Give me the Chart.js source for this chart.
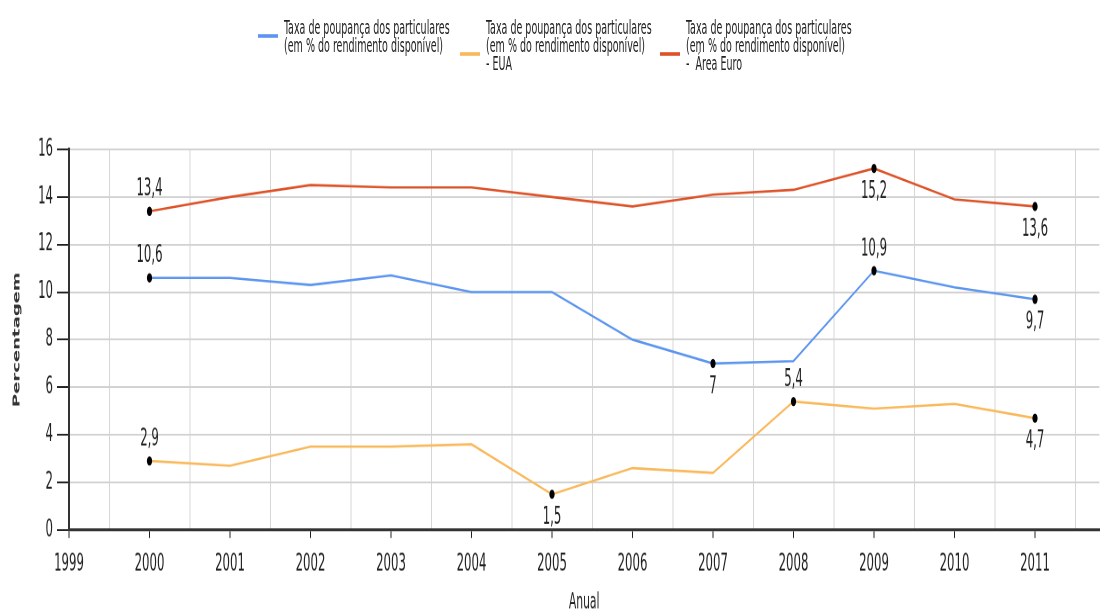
<!DOCTYPE html>
<html>
<head>
<meta charset="utf-8">
<script src="https://cdn.jsdelivr.net/npm/chart.js@4/dist/chart.umd.min.js"></script>
<style>
  html { overflow: hidden; }
  html, body { margin: 0; padding: 0; background: #fff; width: 1102px; height: 615px; }
  #wrap { position: relative; width: 1102px; height: 342px; transform: scaleY(1.8); transform-origin: 0 0; }
  #legend { position: absolute; left: 0; top: 0; width: 1102px; height: 60px; }
  .item { position: absolute; top: 10px; }
  .swatch { position: absolute; width: 20px; height: 2.2px; }
  .text { position: absolute; white-space: pre; font: 10.6px "Liberation Sans Narrow", "Arial Narrow", "DejaVu Sans Condensed", "Liberation Sans", sans-serif; line-height: 10px; color: #222; }
</style>
</head>
<body>
<div id="wrap">
  <canvas id="chart" width="1102" height="342"></canvas>
  <div id="legend"></div>
</div>
<script>
const years = [2000, 2001, 2002, 2003, 2004, 2005, 2006, 2007, 2008, 2009, 2010, 2011];
const particulares = [10.6, 10.6, 10.3, 10.7, 10.0, 10.0, 8.0, 7.0, 7.1, 10.9, 10.2, 9.7];
const eua = [2.9, 2.7, 3.5, 3.5, 3.6, 1.5, 2.6, 2.4, 5.4, 5.1, 5.3, 4.7];
const areaEuro = [13.4, 14.0, 14.5, 14.4, 14.4, 14.0, 13.6, 14.1, 14.3, 15.2, 13.9, 13.6];
const yTicks = [0, 2, 4, 6, 8, 10, 12, 14, 16];

const seriesNames = [
  ["Taxa de poupança dos particulares", "(em % do rendimento disponível)"],
  ["Taxa de poupança dos particulares", "(em % do rendimento disponível)", "- EUA"],
  ["Taxa de poupança dos particulares", "(em % do rendimento disponível)", "-  Área Euro"]
];
const seriesColors = ["#5b95ef", "#f9b85a", "#de5228"];

// which points carry a value label, and where
const particularesLabels = ["top", "", "", "", "", "", "", "bottom", "", "top", "", "bottom"];
const euaLabels = ["top", "", "", "", "", "bottom", "", "", "top", "", "", "bottom"];
const areaEuroLabels = ["top", "", "", "", "", "", "", "", "", "bottom", "", "bottom"];

const narrow = "'Liberation Sans Narrow', 'Arial Narrow', 'DejaVu Sans Condensed', 'Liberation Sans', sans-serif";

// html legend (multi line labels)
const legendPos = [[258, 10], [460, 20], [660, 20]];
const legend = document.getElementById("legend");
seriesNames.forEach(function (lines, i) {
  var item = document.createElement("div");
  item.className = "item";
  item.style.left = legendPos[i][0] + "px";
  var sw = document.createElement("div");
  sw.className = "swatch";
  sw.style.background = seriesColors[i];
  sw.style.top = legendPos[i][1] - 1 + "px";
  var tx = document.createElement("div");
  tx.className = "text";
  tx.style.left = "26px";
  tx.style.top = "0px";
  tx.textContent = lines.join("\n");
  item.appendChild(sw);
  item.appendChild(tx);
  legend.appendChild(item);
});

function makeSet(i, values, labels) {
  return {
    label: seriesNames[i].join(" "),
    data: years.map(function (y, k) { return { x: y, y: values[k] }; }),
    borderColor: seriesColors[i],
    backgroundColor: seriesColors[i],
    borderWidth: 1.3,
    tension: 0,
    pointRadius: function (c) { return labels[c.dataIndex] ? 2.6 : 0; },
    pointHoverRadius: function (c) { return labels[c.dataIndex] ? 2.6 : 0; },
    pointBackgroundColor: "#000",
    pointBorderColor: "#000",
    pointBorderWidth: 0,
    valueLabels: labels
  };
}

const valueLabelPlugin = {
  id: "valueLabels",
  afterDatasetsDraw: function (chart) {
    var ctx = chart.ctx;
    ctx.save();
    ctx.font = "13px " + narrow;
    ctx.fillStyle = "#222";
    ctx.textAlign = "center";
    ctx.textBaseline = "middle";
    chart.data.datasets.forEach(function (ds, i) {
      var meta = chart.getDatasetMeta(i);
      meta.data.forEach(function (el, k) {
        var pos = ds.valueLabels[k];
        if (!pos) return;
        var txt = String(ds.data[k].y).replace(".", ",");
        ctx.fillText(txt, el.x, pos === "top" ? el.y - 12 : el.y + 13);
      });
    });
    ctx.restore();
  }
};

const ctx = document.getElementById("chart").getContext("2d");
const myChart = new Chart(ctx, {
  type: "line",
  data: {
    datasets: [
      makeSet(0, particulares, particularesLabels),
      makeSet(1, eua, euaLabels),
      makeSet(2, areaEuro, areaEuroLabels)
    ]
  },
  plugins: [valueLabelPlugin],
  options: {
    responsive: false,
    devicePixelRatio: 2,
    animation: false,
    layout: { padding: { top: 83, right: 2, left: 0, bottom: 0 } },
    plugins: {
      legend: { display: false },
      tooltip: { enabled: false }
    },
    scales: {
      x: {
        type: "linear",
        min: 1999,
        max: 2011.8,
        afterFit: function (scale) { scale.height = 47.6; },
        ticks: {
          stepSize: 0.5,
          autoSkip: false,
          includeBounds: false,
          maxRotation: 0,
          padding: 7,
          color: "#222",
          font: { family: narrow, size: 13 },
          callback: function (v) { return v % 1 === 0 ? String(v) : ""; }
        },
        grid: {
          color: function (c) { return c.tick && c.tick.value % 1 !== 0 ? "#d6d6d6" : "rgba(0,0,0,0)"; },
          tickColor: function (c) { return c.tick && c.tick.value % 1 === 0 ? "#222" : "rgba(0,0,0,0)"; },
          tickLength: 4.5,
          lineWidth: 1
        },
        border: { color: "#333", width: 1.6 },
        title: {
          display: true,
          text: "Anual",
          color: "#222",
          font: { family: narrow, size: 12 },
          padding: { top: -4, bottom: 0 }
        }
      },
      y: {
        min: 0,
        max: 16,
        afterFit: function (scale) { scale.width = 69; },
        afterBuildTicks: function (scale) { scale.ticks = yTicks.map(function (v) { return { value: v }; }); },
        ticks: {
          padding: 4,
          color: "#222",
          font: { family: narrow, size: 13 }
        },
        grid: {
          color: "#d2d2d2",
          tickColor: "#222",
          tickLength: 12,
          lineWidth: 1
        },
        border: { color: "#333", width: 2 },
        title: {
          display: true,
          text: "Percentagem",
          color: "#333",
          font: { family: "'DejaVu Sans', Verdana, sans-serif", size: 10, weight: "bold" },
          padding: { top: 11, bottom: 0 }
        }
      }
    }
  }
});
</script>
</body>
</html>
